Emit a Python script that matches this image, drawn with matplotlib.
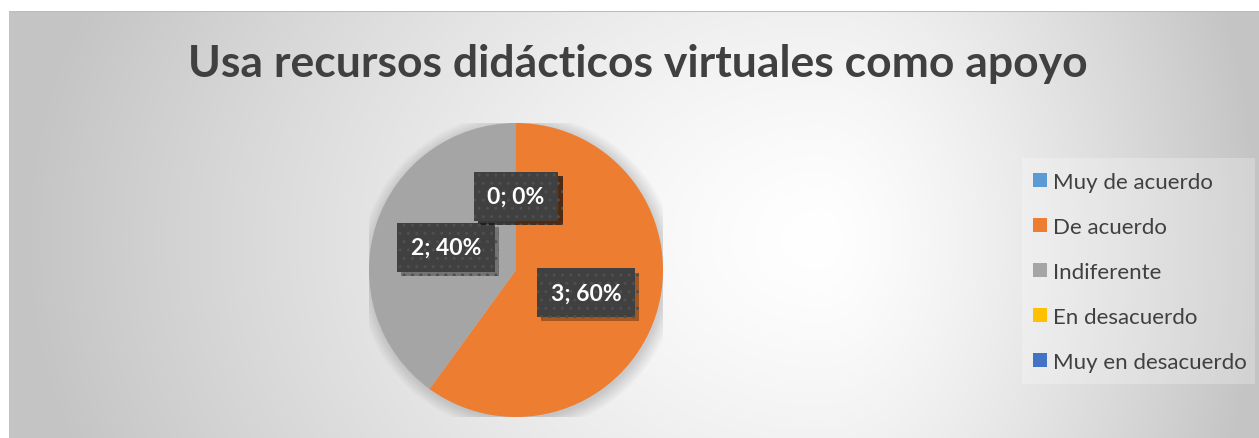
import matplotlib
matplotlib.use("Agg")
import matplotlib.pyplot as plt
import matplotlib.patheffects as pe
from matplotlib.patches import Circle, Rectangle
import numpy as np

# datos del gráfico
categorias = ["Muy de acuerdo", "De acuerdo", "Indiferente", "En desacuerdo", "Muy en desacuerdo"]
valores = [0, 3, 2, 0, 0]
colores = ["#5B9BD5", "#ED7D31", "#A5A5A5", "#FFC000", "#4472C4"]
titulo = "Usa recursos didácticos virtuales como apoyo"

W, H = 1259, 439
plt.rcParams['font.family'] = ['Lato', 'DejaVu Sans']
fig = plt.figure(figsize=(W / 100, H / 100), dpi=100, facecolor="white")

# fondo con degradado radial (estilo Excel)
ax_bg = fig.add_axes([9 / W, 0, 1 - 9 / W, (H - 12) / H])
xs = np.arange(9, W)
ys = np.arange(12, H)
X, Y = np.meshgrid(xs, ys)
cx, cy = 820, 240
rx = np.where(X < cx, 800.0, 440.0)
t = np.clip(np.sqrt(((X - cx) / rx) ** 2 + ((Y - cy) / 620.0) ** 2), 0, 1)
g = (255 - 59 * t ** 1.35) / 255
ax_bg.imshow(np.dstack([g, g, g]), aspect="auto", extent=(0, 1, 0, 1), origin="upper")
ax_bg.axhline(1, color="#bdbdbd", lw=1.5)
ax_bg.set_xlim(0, 1)
ax_bg.set_ylim(0, 1)
ax_bg.axis("off")

# título
fig.text(638 / W, (H - 64) / H, titulo, ha="center", va="center",
         fontsize=32, fontweight="bold", color="#404040")

# pastel
r_px = 147
cxp, cyp = 516, 271
ax = fig.add_axes([(cxp - r_px) / W, (H - cyp - r_px) / H, 2 * r_px / W, 2 * r_px / H])
ax.set_facecolor("none")

# sombra suave alrededor del pastel
for i in range(8):
    ax.add_patch(Circle((0.015, -0.015), 1 + 0.012 * i, color="black", alpha=0.018, lw=0, zorder=0))

total = sum(valores)


def etiqueta(p):
    return f"{int(round(p * total / 100))}; {p:.0f}%"


wedges, _, autotexts = ax.pie(valores, colors=colores, startangle=90, counterclock=False,
                              autopct=etiqueta, pctdistance=0.5,
                              wedgeprops=dict(linewidth=0))
for w in wedges:
    w.set_zorder(1)

for tx in autotexts:
    tx.set_color("white")
    tx.set_fontsize(16.5)
    tx.set_fontweight("bold")
    tx.set_zorder(5)
    tx.set_bbox(dict(boxstyle="square,pad=0.6", fc="#404040", ec="#4f4f4f", lw=0, hatch=".."))
    tx.get_bbox_patch().set_path_effects([
        pe.SimplePatchShadow(offset=(3, -3), shadow_rgbFace="black", alpha=0.3),
        pe.Normal()])

ax.set_xlim(-1, 1)
ax.set_ylim(-1, 1)
ax.set_aspect("equal")
ax.axis("off")

# leyenda
fig.patches.append(Rectangle((1022 / W, (H - 385) / H), (1255 - 1022) / W, (385 - 159) / H,
                             transform=fig.transFigure, fc="white", alpha=0.25, lw=0, zorder=1))
leg = fig.legend(wedges, categorias, loc="upper left",
                 bbox_to_anchor=(1033 / W, (H - 173) / H),
                 frameon=False, fontsize=16, labelcolor="#404040",
                 handlelength=0.62, handleheight=0.62, handletextpad=0.3,
                 labelspacing=1.12, borderaxespad=0, borderpad=0)

fig.savefig("out.png", dpi=100, facecolor="white")
